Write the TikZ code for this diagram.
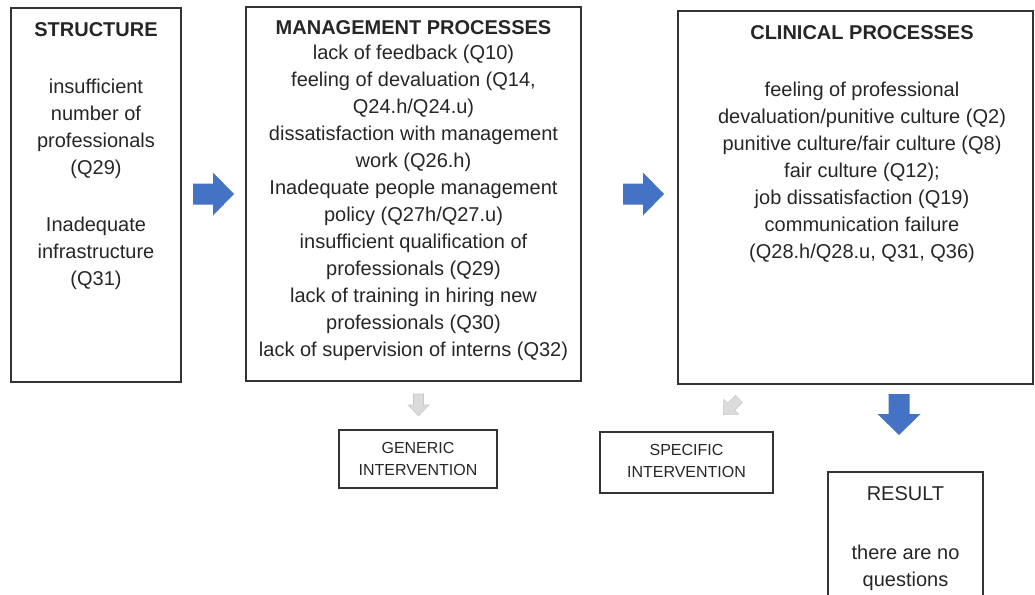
\documentclass[tikz,border=0pt]{standalone}
\usepackage{fontspec}
\setmainfont{Liberation Sans}
\usetikzlibrary{fit}
\definecolor{arrowblue}{RGB}{68,114,196}
\definecolor{arrowgray}{RGB}{219,219,219}
\definecolor{arrowgrayline}{RGB}{200,200,200}
\definecolor{textgray}{RGB}{38,38,38}
\tikzset{
  box/.style={draw=black!80, line width=1.1pt, inner sep=0pt},
  boxtitle/.style={anchor=north, inner sep=0pt, text=textgray,
    font=\bfseries\fontsize{15}{20.25}\selectfont},
  boxtext/.style={anchor=north, inner sep=0pt, align=center, text=textgray,
    font=\fontsize{15}{20.25}\selectfont},
  smalltext/.style={anchor=north, inner sep=0pt, align=center, text=textgray,
    font=\fontsize{12}{16.5}\selectfont},
  pics/bigarrow/.style={code={
    \fill[arrowblue] (0,-10.5) -- (20,-10.5) -- (20,-21.5) -- (41,0)
      -- (20,21.5) -- (20,10.5) -- (0,10.5) -- cycle;}},
  pics/smallarrow/.style={code={
    \filldraw[fill=arrowgray, draw=arrowgrayline, line width=0.4pt]
      (0,-5) -- (11,-5) -- (11,-10.5) -- (22,0)
      -- (11,10.5) -- (11,5) -- (0,5) -- cycle;}}
}
\begin{document}
\begin{tikzpicture}[x=0.75pt, y=-0.75pt]
  %%%%% START %%%%%
  \useasboundingbox (0,0) rectangle (1035,594);
  \clip (0,0) rectangle (1035,594);

  % three main boxes
  \node[box, fit={(11,8) (181,382)}] (struct) {};
  \node[box, fit={(246,7) (581,381)}] (manage) {};
  \node[box, fit={(678,11) (1033,384)}] (clinic) {};

  \node[boxtitle] (structT) at (96,22) {STRUCTURE};
  \node[boxtext] (structB) at (96,79) {insufficient\\ number of\\ professionals\\ (Q29)\\[22pt]
    Inadequate\\ infrastructure\\ (Q31)};

  \node[boxtitle] (manageT) at (413.5,20) {MANAGEMENT PROCESSES};
  \node[boxtext] (manageB) at (413.5,45) {lack of feedback (Q10)\\
    feeling of devaluation (Q14,\\ Q24.h/Q24.u)\\
    dissatisfaction with management\\ work (Q26.h)\\
    Inadequate people management\\ policy (Q27h/Q27.u)\\
    insufficient qualification of\\ professionals (Q29)\\
    lack of training in hiring new\\ professionals (Q30)\\
    lack of supervision of interns (Q32)};

  \node[boxtitle] (clinicT) at (862,25) {CLINICAL PROCESSES};
  \node[boxtext] (clinicB) at (862,82) {feeling of professional\\
    devaluation/punitive culture (Q2)\\
    punitive culture/fair culture (Q8)\\
    fair culture (Q12);\\
    job dissatisfaction (Q19)\\
    communication failure\\
    (Q28.h/Q28.u, Q31, Q36)};

  % arrows between boxes
  \pic at (193,194) {bigarrow};
  \pic at (623,194) {bigarrow};
  \pic[rotate=-90] at (899,394) {bigarrow};
  \pic[rotate=-90] at (418.5,394) {smallarrow};
  \pic[rotate=225] at (739,399) {smallarrow};

  % interventions and result
  \node[box, fit={(339,430) (497,488)}] (generic) {};
  \node[smalltext] (genericT) at (418,442) {GENERIC\\ INTERVENTION};

  \node[box, fit={(600,432) (773,493)}] (specific) {};
  \node[smalltext] (specificT) at (686.5,444) {SPECIFIC\\ INTERVENTION};

  \node[box, fit={(828,472) (983,640)}] (result) {};
  \node[boxtext] (resultT) at (905.5,486) {RESULT};
  \node[boxtext] (resultB) at (905.5,545) {there are no\\ questions};
  %%%%% END %%%%%
\end{tikzpicture}
\end{document}
